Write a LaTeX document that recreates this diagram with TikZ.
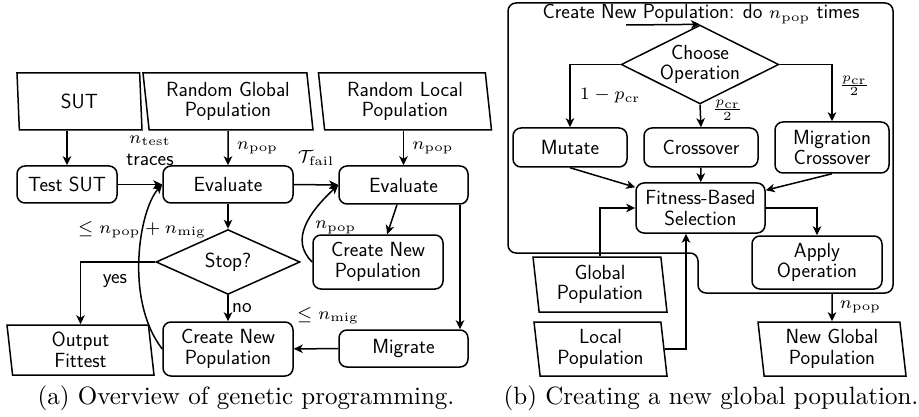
\documentclass[tikz,border=0pt]{standalone}
\usepackage{graphicx}
\usetikzlibrary{shapes.geometric,arrows.meta}
\newcommand{\mth}[1]{\scalebox{2.5}{\fontsize{7}{8}\selectfont$#1$}}
\newcommand{\capt}[1]{\scalebox{2.5}{\fontsize{10}{12}\selectfont\rmfamily #1}}
\begin{document}
\begin{tikzpicture}[x=1pt,y=-1pt,line width=1.5pt,
  >={Stealth[length=9pt,width=8.5pt,inset=2.5pt]},
  txt/.style={font=\fontsize{20.5}{20.5}\selectfont\sffamily},
  box/.style={txt,draw,rounded corners=8pt,align=center,inner sep=0pt},
  pgram/.style={txt,draw,trapezium,trapezium left angle=99,trapezium right angle=81,trapezium stretches body,align=center,inner sep=0pt},
  dia/.style={txt,draw,diamond,align=center,inner sep=0pt},
  lbl/.style={txt,inner sep=1pt},
  captxt/.style={inner sep=0pt},
]
\useasboundingbox (0,0) rectangle (919,417);

% ---------- (a) ----------
\node[pgram,minimum width=125,minimum height=57] (sut) at (79.5,101.5) {SUT};
\node[pgram,minimum width=170,minimum height=57] (rgp) at (228,101.5) {Random Global\\Population};
\node[pgram,minimum width=173,minimum height=57] (rlp) at (405,101.5) {Random Local\\Population};
\node[box,minimum width=100,minimum height=37] (test) at (67,184.5) {Test SUT};
\node[box,minimum width=130,minimum height=37] (ev1) at (228,184.5) {Evaluate};
\node[box,minimum width=129,minimum height=38] (ev2) at (403.5,185) {Evaluate};
\node[dia,minimum width=144,minimum height=52] (stop) at (228,262) {Stop?};
\node[box,minimum width=130,minimum height=54] (cnp2) at (378,262) {Create New\\Population};
\node[pgram,minimum width=147,minimum height=50] (out) at (80.5,350) {Output\\Fittest};
\node[box,minimum width=130,minimum height=54] (cnp1) at (228,349) {Create New\\Population};
\node[box,minimum width=129,minimum height=37] (mig) at (403.5,348.5) {Migrate};

\draw[->] (sut.south -| test.north) -- (test.north);
\draw[->] (rgp.south) -- node[lbl,right=7pt]{\mth{n_{\mathrm{pop}}}} (ev1.north);
\draw[->] (rlp.south -| ev2.north) -- node[lbl,right=7pt]{\mth{n_{\mathrm{pop}}}} (ev2.north);
\draw[->] (test) -- node[lbl,above=17pt,xshift=10pt,align=center]{\mth{n_{\mathrm{test}}}\\[2pt]traces} (ev1);
\draw[->] (ev1) -- node[lbl,above=18pt]{\mth{\mathcal{T}_{\mathrm{fail}}}} (ev2);
\draw[->] (ev1) -- (stop);
\draw[->] (stop.west) -| node[txt,pos=0.27,below=8pt]{yes} (out.north);
\draw[->] (stop) -- node[txt,right]{no} (cnp1);
\draw[->] (mig) -- node[lbl,above=23pt,xshift=12pt]{\mth{\leq n_{\mathrm{mig}}}} (cnp1);
\draw[->] (ev2) -- node[lbl,left=34pt,yshift=-8pt]{\mth{n_{\mathrm{pop}}}} (cnp2);
\draw[->] (cnp2.west) .. controls +(-23,-22) and +(-29,27) .. (ev2.west);
\draw[->] (cnp1.west) .. controls +(-38,-49) and +(-23,25) .. node[lbl,pos=0.62,yshift=6pt]{\mth{\leq n_{\mathrm{pop}} + n_{\mathrm{mig}}}} (ev1.west);
\draw[->] ([xshift=56.5pt]ev2.south) -- ([xshift=56.5pt]mig.north);

% ---------- (b) ----------
\draw[rounded corners=8pt] (508,3) -- (893,3) -- (893,293) -- (698,293) -- (698,253) -- (508,253) -- cycle;
\node[txt] (title) at (701,14) {Create New Population: do \mth{n_{\mathrm{pop}}} times};
\node[dia,aspect=2,minimum width=156,minimum height=77] (choose) at (700,64.5) {Choose\\Operation};
\coordinate (cin) at (626,25);
\draw[->] (cin) -- (choose.north);

\node[box,minimum width=114,minimum height=39] (mut) at (570,147.5) {Mutate};
\node[box,minimum width=114,minimum height=39] (cross) at (701,147.5) {Crossover};
\node[box,minimum width=114,minimum height=51] (mcross) at (832,147.5) {Migration\\Crossover};
\node[box,minimum width=129,minimum height=50] (fbs) at (700.5,208) {Fitness-Based\\Selection};
\node[box,minimum width=130,minimum height=53] (apply) at (817,262.5) {Apply\\Operation};
\node[pgram,minimum width=134,minimum height=55] (gpop) at (600,284.5) {Global\\Population};
\node[pgram,minimum width=133,minimum height=54] (lpop) at (600.5,349) {Local\\Population};
\node[pgram,minimum width=148,minimum height=54] (ngp) at (832,349) {New Global\\Population};

\draw[->] (choose.west) -| node[lbl,pos=0.75,right=8pt]{\mth{1-p_{\mathrm{cr}}}} (mut.north);
\draw[->] (choose.south) -- node[lbl,pos=0.25,right=10pt]{\mth{\frac{p_{\mathrm{cr}}}{2}}} (cross.north);
\draw[->] (choose.east) -| node[lbl,pos=0.69,right=5pt]{\mth{\frac{p_{\mathrm{cr}}}{2}}} (mcross.north);
\draw[->] (mut.south) -- ([yshift=-5pt]fbs.north west);
\draw[->] (cross) -- (fbs);
\draw[->] (mcross.south) -- ([yshift=-8pt]fbs.north east);
\draw[->] (gpop.center |- gpop.north) |- (fbs.west);
\draw[->] (lpop.east) -| ([xshift=-14.5pt]fbs.south);
\draw[->] (fbs.east) -| (apply.north);
\coordinate (fout) at (832,293);
\draw[->] (fout) -- node[lbl,right=6pt]{\mth{n_{\mathrm{pop}}}} (ngp.north);

% ---------- captions ----------
\node[captxt] (capa) at (246,398) {\capt{(a) Overview of genetic programming.}};
\node[captxt] (capb) at (711,398) {\capt{(b) Creating a new global population.}};
\end{tikzpicture}
\end{document}
